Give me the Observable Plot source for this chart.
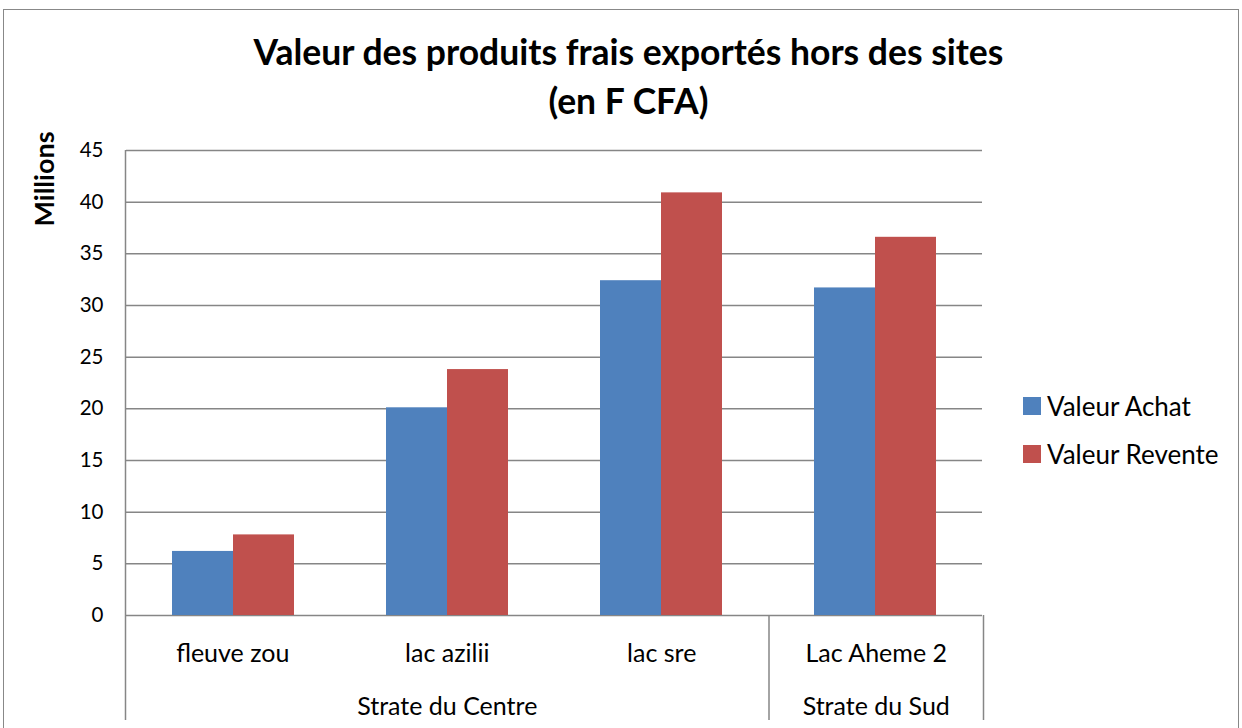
<!DOCTYPE html>
<html><head><meta charset="utf-8">
<script src="https://cdn.jsdelivr.net/npm/d3@7"></script>
<script src="https://cdn.jsdelivr.net/npm/@observablehq/plot@0.6"></script>
<style>
body{margin:0;background:#fff;font-family:Lato,"Open Sans",sans-serif;}
#chart{position:relative;width:1242px;height:728px;overflow:hidden;background:#fff}
#chart svg{position:absolute;left:0;top:0;overflow:visible}
#border{position:absolute;left:3px;top:9px;width:1236px;height:800px;border:1.5px solid #888;box-sizing:border-box}
.title{position:absolute;left:0;width:1257px;text-align:center;font-weight:bold;font-size:35.5px;color:#000;line-height:1}
#ylab{position:absolute;left:43px;top:179px;transform:translate(-50%,-50%) rotate(-90deg);font-weight:bold;font-size:27px;white-space:nowrap;color:#000;line-height:1}
.leg{position:absolute;left:1023px;font-size:26px;color:#000;white-space:nowrap;display:flex;align-items:center;line-height:1}
.leg span.sw{display:inline-block;width:18px;height:18px;margin-right:6px}
</style></head><body>
<div id="chart">
  <div id="border"></div>
</div>
<script>
const categories = ["fleuve zou", "lac azilii", "lac sre", "Lac Aheme 2"];
const seriesNames = ["Valeur Achat", "Valeur Revente"];
const valeurAchat = [6.2, 20.1, 32.4, 31.7];
const valeurRevente = [7.8, 23.8, 40.9, 36.6];
const groupNames = ["Strate du Centre", "Strate du Sud"];
const groupSizes = [3, 1];
const yTicks = [0, 5, 10, 15, 20, 25, 30, 35, 40, 45];
const titleLines = ["Valeur des produits frais exportés hors des sites", "(en F CFA)"];
const yLabel = "Millions";
const colors = ["#4F81BD", "#C0504D"];

const data = categories.flatMap((c, i) => [
  {cat: c, series: seriesNames[0], value: valeurAchat[i]},
  {cat: c, series: seriesNames[1], value: valeurRevente[i]}
]);

const W = 1242, H = 728, ML = 125, MR = 259, MT = 150, MB = 113;
const grid = "#868686";
const font = "Lato, 'Open Sans', sans-serif";

const main = Plot.plot({
  width: W, height: H, marginLeft: ML, marginRight: MR, marginTop: MT, marginBottom: MB,
  style: {fontFamily: font, fontSize: "20.5px", color: "#000", background: "transparent"},
  fx: {domain: categories, padding: 0, axis: null, label: null},
  x: {domain: seriesNames, paddingInner: 0, paddingOuter: 0.75, axis: null},
  y: {domain: [0, 45], ticks: yTicks, tickSize: 0, tickPadding: 23, label: null},
  color: {domain: seriesNames, range: colors},
  marks: [
    Plot.ruleY(yTicks, {stroke: grid, strokeWidth: 1.5}),
    Plot.barY(data, {fx: "cat", x: "series", y: "value", fill: "series"})
  ]
});

let acc = 0;
const bounds = [0], groupMid = [];
groupSizes.forEach(s => { groupMid.push(acc + s / 2); acc += s; bounds.push(acc); });

const overlay = Plot.plot({
  width: W, height: H, marginLeft: ML, marginRight: MR, marginTop: MT, marginBottom: MB,
  style: {fontFamily: font, fontSize: "25px", color: "#000", background: "transparent"},
  x: {domain: [0, categories.length], axis: null},
  y: {domain: [0, 45], axis: null},
  marks: [
    Plot.ruleX([0], {stroke: grid, strokeWidth: 1.5, insetBottom: -105}),
    Plot.ruleX(bounds.slice(1), {y1: 0, y2: 0, stroke: grid, strokeWidth: 1.5, insetBottom: -105}),
    Plot.text(categories, {x: (d, i) => i + 0.5, frameAnchor: "bottom", dy: 46, fontSize: 25, fill: "#000"}),
    Plot.text(groupNames, {x: (d, i) => groupMid[i], frameAnchor: "bottom", dy: 99, fontSize: 25, fill: "#000"})
  ]
});

const chart = document.getElementById("chart");
chart.appendChild(main);
chart.appendChild(overlay);

titleLines.forEach((t, i) => {
  const d = document.createElement("div");
  d.className = "title"; d.textContent = t;
  d.style.top = (34 + i * 49) + "px";
  chart.appendChild(d);
});
const yl = document.createElement("div");
yl.id = "ylab"; yl.textContent = yLabel; chart.appendChild(yl);
seriesNames.forEach((s, i) => {
  const d = document.createElement("div");
  d.className = "leg";
  d.style.top = (393 + i * 48) + "px";
  d.innerHTML = `<span class="sw" style="background:${colors[i]}"></span>`;
  d.appendChild(document.createTextNode(s));
  chart.appendChild(d);
});
</script>
</body></html>
